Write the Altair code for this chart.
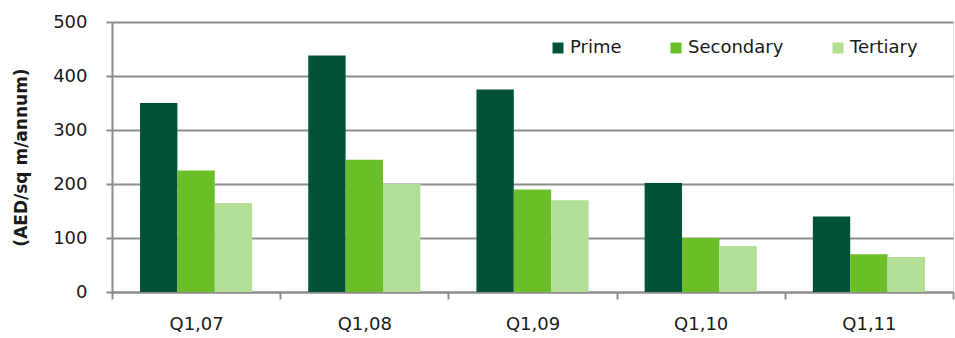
import altair as alt
import pandas as pd

quarters = ["Q1,07", "Q1,08", "Q1,09", "Q1,10", "Q1,11"]
series = ["Prime", "Secondary", "Tertiary"]
prime = [350, 438, 375, 202, 140]
secondary = [225, 245, 190, 100, 70]
tertiary = [165, 200, 170, 85, 65]
colors = ["#02523A", "#6ABE28", "#B3DE96"]
y_ticks = [0, 100, 200, 300, 400, 500]

rows = []
for i, q in enumerate(quarters):
    for s, vals in zip(series, [prime, secondary, tertiary]):
        rows.append({"quarter": q, "series": s, "value": vals[i]})
df = pd.DataFrame(rows)

FONT = "DejaVu Sans"
GRID = "#8c8c8c"

chart = alt.Chart(df).mark_bar().encode(
    x=alt.X("quarter:N", sort=quarters,
            scale=alt.Scale(paddingInner=0, paddingOuter=0),
            axis=alt.Axis(title=None, labelAngle=0, tickBand="extent",
                          tickSize=7, tickColor=GRID, tickWidth=2,
                          domainColor=GRID, domainWidth=2,
                          labelFontSize=18, labelPadding=16, labelColor="#1a1a1a",
                          labelFont=FONT, grid=False)),
    xOffset=alt.XOffset("series:N", sort=series,
                        scale=alt.Scale(paddingInner=0, paddingOuter=0.75)),
    y=alt.Y("value:Q", scale=alt.Scale(domain=[0, 500], nice=False),
            axis=alt.Axis(title="(AED/sq m/annum)", values=y_ticks,
                          titleFont=FONT, titleFontSize=17, titleFontWeight="bold",
                          titleColor="#1a1a1a", titlePadding=22,
                          labelFont=FONT, labelFontSize=18, labelColor="#1a1a1a",
                          labelPadding=19, tickSize=6, tickColor=GRID, tickWidth=2,
                          domainColor=GRID, domainWidth=2,
                          grid=True, gridColor=GRID, gridWidth=2)),
    color=alt.Color("series:N", sort=series,
                    scale=alt.Scale(domain=series, range=colors),
                    legend=alt.Legend(title=None, orient="none", direction="horizontal",
                                      legendX=437, legendY=17,
                                      symbolType="square", symbolSize=121,
                                      symbolStrokeWidth=0, labelOffset=3,
                                      columnPadding=45, labelFont=FONT,
                                      labelFontSize=18, labelColor="#1a1a1a")),
).properties(
    width=841, height=270,
    autosize=alt.AutoSizeParams(type="none"),
    padding={"left": 112, "top": 22, "right": 2, "bottom": 46},
).configure_view(stroke=None).configure(background="white")

chart.save("out.html", embed_options={"renderer": "svg", "actions": False})
